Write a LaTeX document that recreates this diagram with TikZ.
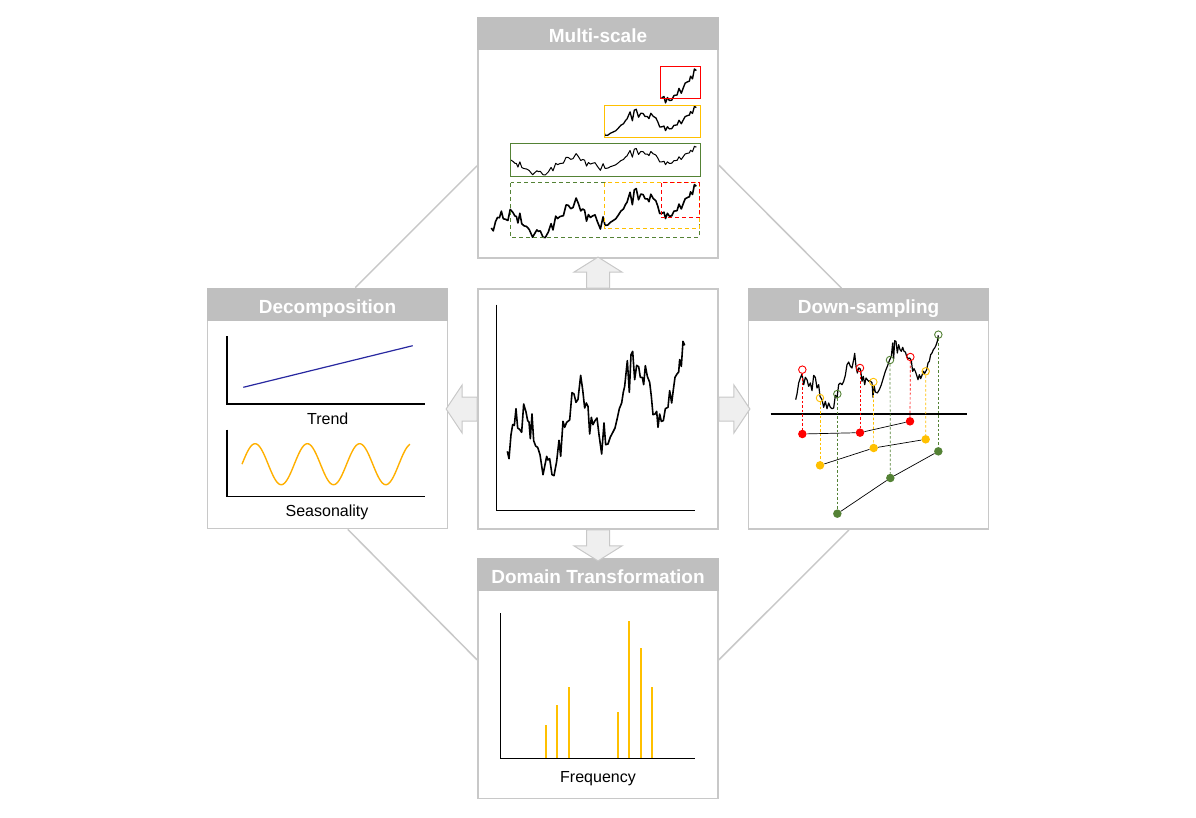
\documentclass[tikz,border=0pt]{standalone}
\usepackage{fontspec}
\setmainfont{Liberation Sans}
\usetikzlibrary{calc}
\definecolor{bordc}{HTML}{C8C8C8}
\definecolor{hdrc}{HTML}{BFBFBF}
\definecolor{arrfill}{HTML}{EFEFEF}
\definecolor{redc}{HTML}{FF0000}
\definecolor{yelc}{HTML}{FFC000}
\definecolor{sinc}{HTML}{FFB000}
\definecolor{grnc}{HTML}{548235}
\definecolor{bluec}{HTML}{2828A0}
\newcommand\cseries{(88,490) -- (93,512) -- (99,440) -- (104,410) -- (109,412) -- (114,362) -- (119,420) -- (125,424) -- (131,433) -- (137,348) -- (144,372) -- (149,398) -- (153,402) -- (157,452) -- (162,378) -- (167,458) -- (173,474) -- (179,478) -- (186,500) -- (195,560) -- (206,505) -- (210,516) -- (215,512) -- (222,560) -- (228,563) -- (236,520) -- (243,457) -- (248,505) -- (255,400) -- (260,418) -- (266,403) -- (275,396) -- (282,314) -- (288,318) -- (294,343) -- (300,334) -- (308,262) -- (314,305) -- (320,360) -- (325,345) -- (330,355) -- (335,438) -- (340,388) -- (345,410) -- (351,398) -- (357,390) -- (363,440) -- (371,498) -- (378,405) -- (383,470) -- (390,468) -- (397,447) -- (405,432) -- (411,420) -- (418,390) -- (424,362) -- (431,345) -- (436,312) -- (440,295) -- (448,218) -- (454,313) -- (459,200) -- (464,190) -- (470,275) -- (476,232) -- (482,236) -- (487,268) -- (493,268) -- (497,290) -- (502,233) -- (508,265) -- (515,283) -- (520,325) -- (525,380) -- (531,378) -- (536,370) -- (540,418) -- (545,378) -- (550,400) -- (556,398) -- (562,362) -- (570,358) -- (575,308) -- (581,345) -- (586,305) -- (591,268) -- (597,258) -- (602,252) -- (605,215) -- (610,235) -- (615,160) -- (620,172)}
\newcommand\dseries{(143,335) -- (147,318) -- (152,285) -- (157,270) -- (162,258) -- (167,290) -- (172,268) -- (177,275) -- (182,295) -- (187,285) -- (192,308) -- (197,262) -- (202,268) -- (207,300) -- (212,290) -- (216,325) -- (222,335) -- (227,358) -- (232,340) -- (237,362) -- (242,345) -- (247,358) -- (252,362) -- (257,360) -- (262,322) -- (267,330) -- (272,290) -- (277,285) -- (282,290) -- (287,280) -- (292,262) -- (297,230) -- (302,222) -- (307,235) -- (312,240) -- (317,215) -- (320,196) -- (324,235) -- (328,255) -- (332,240) -- (336,242) -- (338,248) -- (342,280) -- (346,265) -- (350,290) -- (354,270) -- (358,275) -- (362,280) -- (366,278) -- (372,284) -- (375,328) -- (378,292) -- (382,312) -- (388,315) -- (394,305) -- (400,290) -- (406,270) -- (412,250) -- (418,235) -- (424,218) -- (430,205) -- (434,165) -- (437,212) -- (440,158) -- (444,160) -- (448,195) -- (452,170) -- (456,185) -- (460,190) -- (464,178) -- (468,190) -- (472,192) -- (476,205) -- (480,212) -- (485,210) -- (490,218) -- (494,250) -- (498,242) -- (502,250) -- (506,262) -- (510,275) -- (514,260) -- (518,272) -- (522,262) -- (526,250) -- (530,256) -- (536,245) -- (540,225) -- (544,220) -- (548,200) -- (552,195) -- (556,185) -- (560,180) -- (564,172) -- (568,160) -- (571,142)}
\begin{document}
\begin{tikzpicture}[x=1pt,y=-1pt,
  panel/.style={draw=bordc, line width=1.8pt, fill=white, minimum width=240pt, minimum height=240pt, inner sep=0pt},
  hdr/.style={fill=hdrc},
  htext/.style={text=white, font=\fontsize{19}{22}\selectfont\bfseries, inner sep=0pt, anchor=base},
  lbl/.style={font=\fontsize{16}{19}\selectfont, inner sep=0pt, anchor=base},
  diag/.style={draw=bordc, line width=1.5pt},
  blockarrow/.style={draw=bordc, fill=arrfill, line width=1pt, line join=miter},
  series/.style={line width=1.6pt, line join=round},
  axisline/.style={line width=1.2pt},
  boxline/.style={line width=1pt},
  dashline/.style={line width=1pt, dash pattern=on 4pt off 3pt},
  hring/.style={circle, draw=#1, line width=0.9pt, minimum size=7.5pt, inner sep=0pt},
  fdot/.style={circle, fill=#1, minimum size=8.5pt, inner sep=0pt},
  drop/.style={draw=#1, line width=0.7pt, dash pattern=on 2.5pt off 2pt}]
\useasboundingbox (0,0) rectangle (1196,818);

% panels
\node[panel] (ms) at (598,138) {};
\node[panel] (dec) at (327.5,408.5) {};
\node[panel] (ctr) at (598,409) {};
\node[panel] (ds) at (868.5,409) {};
\node[panel] (dt) at (598,678.5) {};

% diamond connectors
\draw[diag] ($(ms.north west)!0.615!(ms.south west)$) -- ($(dec.north west)!0.615!(dec.north east)$);
\draw[diag] ($(ms.north east)!0.6125!(ms.south east)$) -- ($(ds.north west)!0.388!(ds.north east)$);
\draw[diag] ($(dec.south west)!0.584!(dec.south east)$) -- ($(dt.north west)!0.423!(dt.south west)$);
\draw[diag] ($(ds.south west)!0.419!(ds.south east)$) -- ($(dt.north east)!0.423!(dt.south east)$);

% headers
\foreach \p/\t in {ms/Multi-scale, dec/Decomposition, ds/Down-sampling, dt/Domain Transformation} {
  \fill[hdr] (\p.north west) rectangle ($(\p.north east)+(0,33)$);
  \node[htext] (\p-h) at ($(\p.north)+(0,25.5)$) {\t};
}

% block arrows
\draw[blockarrow, shift={(ctr.north)}] (-11.5,0) -- (-11.5,-16) -- (-24,-16) -- (0,-31) -- (24,-16) -- (11.5,-16) -- (11.5,0) -- cycle;
\draw[blockarrow, shift={(ctr.south)}] (-11.5,0) -- (-11.5,16) -- (-24,16) -- (0,31) -- (24,16) -- (11.5,16) -- (11.5,0) -- cycle;
\draw[blockarrow, shift={(ctr.west)}] (0,-12) -- (-15,-12) -- (-15,-24) -- (-31,0) -- (-15,24) -- (-15,12) -- (0,12) -- cycle;
\draw[blockarrow, shift={(ctr.east)}] (0,-12) -- (15,-12) -- (15,-24) -- (31,0) -- (15,24) -- (15,12) -- (0,12) -- cycle;

% center plot
\begin{scope}[shift={(478,288)}, scale=0.33333]
  \draw[axisline] (55,50) -- (55,668) -- (650,668);
  \draw[series] \cseries;
\end{scope}

% multi-scale
\begin{scope}[shift={(478,18)}, scale=0.33333]
  \begin{scope}[shift={(-61.7,436.9)}, xscale=1.156, yscale=0.394]
    \draw[series] \cseries;
  \end{scope}
  \begin{scope}
    \clip (97,300) rectangle (700,520);
    \begin{scope}[shift={(-61.7,351)}, xscale=1.156, yscale=0.2128]
      \draw[line width=1pt, line join=round] \cseries;
    \end{scope}
  \end{scope}
  \begin{scope}
    \clip (380,200) rectangle (700,400);
    \begin{scope}[shift={(-61.7,220.6)}, xscale=1.156, yscale=0.28]
      \draw[line width=1.3pt, line join=round] \cseries;
    \end{scope}
  \end{scope}
  \begin{scope}
    \clip (550,100) rectangle (700,260);
    \begin{scope}[shift={(-61.7,89.9)}, xscale=1.156, yscale=0.394]
      \draw[line width=1.4pt, line join=round] \cseries;
    \end{scope}
  \end{scope}
  \draw[boxline, redc] (548,145) rectangle (667,243);
  \draw[boxline, yelc] (378,262) rectangle (667,358);
  \draw[boxline, grnc] (97,377) rectangle (667,475);
  \draw[dashline, grnc] (98,495) rectangle (664,658);
  \draw[dashline, yelc] (380,495) rectangle (664,632);
  \draw[dashline, redc] (550,495) rectangle (664,600);
\end{scope}

% decomposition
\draw[line width=1.1pt] (227,336) -- (227,404) -- (425,404);
\draw[line width=1.1pt] (227,429.7) -- (227,496.3) -- (425,496.3);
\draw[bluec, line width=1.2pt] (243.3,387.3) -- (412.7,345.7);
\draw[sinc, line width=1.4pt] plot[domain=0:168, samples=160] ({242+\x}, {464.2 - 20.5*sin(6.8834*\x)});
\node[lbl] (trend) at (327.7,424) {Trend};
\node[lbl] (seas) at (327,516.3) {Seasonality};

% down-sampling
\begin{scope}[shift={(748,288)}, scale=0.33333]
  \draw[line width=1.2pt] (68,378) -- (658,378);
  \draw[line width=1.2pt, line join=round] \dseries;
  \node[hring=redc] (rc1) at (163,245) {};
  \node[hring=redc] (rc2) at (336,240) {};
  \node[hring=redc] (rc3) at (487,207) {};
  \node[hring=yelc] (yc1) at (216,330) {};
  \node[hring=yelc] (yc2) at (376,282) {};
  \node[hring=yelc] (yc3) at (533,250) {};
  \node[hring=grnc] (gc1) at (268,318) {};
  \node[hring=grnc] (gc2) at (426,216) {};
  \node[hring=grnc] (gc3) at (571,140) {};
  \node[fdot=redc] (rd1) at (163,438) {};
  \node[fdot=redc] (rd2) at (336,434) {};
  \node[fdot=redc] (rd3) at (486,400) {};
  \node[fdot=yelc] (yd1) at (216,532) {};
  \node[fdot=yelc] (yd2) at (377,480) {};
  \node[fdot=yelc] (yd3) at (533,454) {};
  \node[fdot=grnc] (gd1) at (268,677) {};
  \node[fdot=grnc] (gd2) at (427,570) {};
  \node[fdot=grnc] (gd3) at (571,490) {};
  \foreach \c/\a in {redc/r, yelc/y, grnc/g}{
    \foreach \i in {1,2,3}{
      \draw[drop=\c] (\a c\i) -- (\a d\i);
    }
    \draw[line width=0.7pt] (\a d1) -- (\a d2) -- (\a d3);
  }
\end{scope}

% domain transformation
\begin{scope}[shift={(478,558)}, scale=0.33333]
  \draw[axisline] (67,165) -- (67,602) -- (652,602);
  \foreach \x/\h in {203/500,237/442,272/388,419/462,453/188,488/270,523/388}
    \draw[yelc, line width=1.8pt] (\x,600) -- (\x,\h);
\end{scope}
\node[lbl] (freq) at (598,782) {Frequency};
\end{tikzpicture}
\end{document}
